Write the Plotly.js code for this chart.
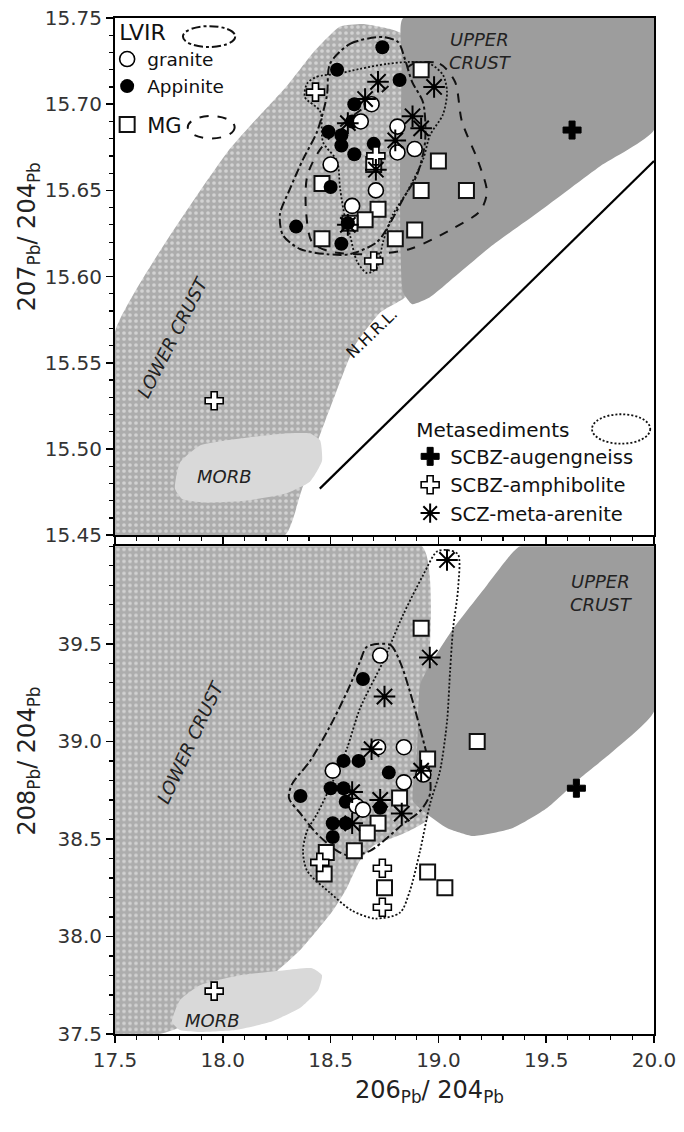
<!DOCTYPE html>
<html><head><meta charset="utf-8">
<script src="https://cdn.plot.ly/plotly-3.0.1.min.js"></script>
<style>html,body{margin:0;padding:0;background:#fff}</style>
</head><body><div id="chart" style="width:684px;height:1132px"></div>
<script>
// ---------------- DATA: 206Pb/204Pb vs 207Pb/204Pb (top panel) ----------------
const granite207X  = [18.69, 18.64, 18.81, 18.81, 18.89, 18.50, 18.71, 18.60];
const granite207Y  = [15.700, 15.690, 15.687, 15.672, 15.674, 15.665, 15.650, 15.641];
const appinite207X = [18.74, 18.53, 18.82, 18.61, 18.60, 18.49, 18.55, 18.55, 18.61, 18.70, 18.50, 18.34, 18.55, 18.58];
const appinite207Y = [15.733, 15.720, 15.714, 15.700, 15.690, 15.684, 15.682, 15.676, 15.671, 15.677, 15.652, 15.629, 15.619, 15.631];
const mg207X       = [18.92, 19.00, 18.46, 18.92, 19.13, 18.72, 18.66, 18.59, 18.46, 18.80, 18.89, 18.70];
const mg207Y       = [15.720, 15.667, 15.654, 15.650, 15.650, 15.639, 15.633, 15.631, 15.622, 15.622, 15.627, 15.665];
const arenite207X  = [18.72, 18.98, 18.66, 18.58, 18.88, 18.92, 18.80, 18.71, 18.58];
const arenite207Y  = [15.713, 15.710, 15.703, 15.689, 15.693, 15.686, 15.679, 15.662, 15.630];
const amph207X     = [18.43, 18.71, 18.70, 17.96];
const amph207Y     = [15.707, 15.670, 15.609, 15.528];
const augen207X    = [19.62];
const augen207Y    = [15.685];

// ---------------- DATA: 206Pb/204Pb vs 208Pb/204Pb (bottom panel) ----------------
const granite208X  = [18.73, 18.72, 18.84, 18.51, 18.84, 18.93, 18.62, 18.65];
const granite208Y  = [39.44, 38.97, 38.97, 38.85, 38.79, 38.83, 38.67, 38.65];
const appinite208X = [18.65, 18.56, 18.63, 18.77, 18.36, 18.50, 18.56, 18.57, 18.73, 18.51, 18.57, 18.51];
const appinite208Y = [39.32, 38.90, 38.90, 38.84, 38.72, 38.76, 38.76, 38.69, 38.66, 38.58, 38.58, 38.51];
const mg208X       = [18.92, 19.18, 18.95, 18.82, 18.72, 18.67, 18.61, 18.48, 18.47, 18.75, 18.95, 19.03];
const mg208Y       = [39.58, 39.00, 38.91, 38.71, 38.58, 38.53, 38.44, 38.43, 38.32, 38.25, 38.33, 38.25];
const arenite208X  = [19.04, 18.96, 18.75, 18.69, 18.92, 18.73, 18.83, 18.60, 18.60];
const arenite208Y  = [39.93, 39.43, 39.23, 38.96, 38.85, 38.70, 38.63, 38.58, 38.74];
const amph208X     = [18.45, 18.74, 18.74, 17.96];
const amph208Y     = [38.38, 38.35, 38.15, 37.72];
const augen208X    = [19.64];
const augen208Y    = [38.76];

// ---------------- Reservoir fields (outline vertices in data units) ----------------
const lowerCrust207X = [17.50, 18.02, 18.30, 18.42, 18.544, 18.65, 18.776, 18.845, 18.878, 18.878, 18.836, 18.729, 18.613, 18.52, 18.442, 18.358, 18.288, 17.50];
const lowerCrust207Y = [15.568, 15.672, 15.711, 15.730, 15.745, 15.7465, 15.7436, 15.740, 15.725, 15.591, 15.587, 15.579, 15.560, 15.531, 15.505, 15.473, 15.450, 15.450];
const upperCrust207X = [18.836, 20.0, 20.0, 19.75, 19.471, 19.239, 19.077, 18.961, 18.878, 18.836, 18.822, 18.831];
const upperCrust207Y = [15.75, 15.75, 15.685, 15.664, 15.638, 15.617, 15.600, 15.588, 15.584, 15.591, 15.643, 15.725];
const morb207X = [17.778, 17.801, 17.894, 18.080, 18.288, 18.404, 18.451, 18.460, 18.404, 18.288, 18.103, 17.917, 17.811];
const morb207Y = [15.477, 15.492, 15.502, 15.506, 15.509, 15.509, 15.505, 15.493, 15.481, 15.474, 15.470, 15.469, 15.471];
const nhrlX = [18.45, 20.0];
const nhrlY = [15.477, 15.667];

const lowerCrust208X = [17.50, 18.924, 18.924, 18.952, 18.836, 18.697, 18.636, 18.576, 18.511, 18.358, 18.173, 17.941, 17.709, 17.50];
const lowerCrust208Y = [40.0, 40.0, 38.796, 38.602, 38.526, 38.464, 38.388, 38.250, 38.133, 37.929, 37.750, 37.597, 37.50, 37.50];
const upperCrust208X = [19.378, 20.0, 20.0, 19.81, 19.657, 19.504, 19.346, 19.16, 19.04, 18.947, 18.882, 18.901, 18.915, 18.961, 19.068, 19.225, 19.318];
const upperCrust208Y = [40.0, 40.0, 39.153, 38.949, 38.811, 38.658, 38.556, 38.515, 38.556, 38.628, 38.694, 38.949, 39.291, 39.393, 39.577, 39.801, 39.934];
const morb208X = [17.764, 17.801, 17.894, 18.080, 18.288, 18.414, 18.460, 18.442, 18.358, 18.219, 18.057, 17.894, 17.801];
const morb208Y = [37.561, 37.673, 37.750, 37.801, 37.827, 37.837, 37.801, 37.724, 37.633, 37.561, 37.520, 37.510, 37.520];

// ---------------- Group envelopes ----------------
const lvir207X = [18.497, 18.59, 18.743, 18.813, 18.845, 18.878, 18.929, 18.938, 18.901, 18.836, 18.776, 18.715, 18.59, 18.483, 18.358, 18.279, 18.265, 18.312, 18.372, 18.437, 18.483];
const lvir207Y = [15.7234, 15.735, 15.739, 15.736, 15.726, 15.713, 15.701, 15.678, 15.659, 15.645, 15.631, 15.620, 15.613, 15.613, 15.616, 15.624, 15.636, 15.651, 15.668, 15.684, 15.705];
const mgEnv207X = [18.882, 19.007, 19.077, 19.109, 19.184, 19.225, 19.193, 19.054, 18.868, 18.683, 18.497, 18.414, 18.386, 18.391, 18.442, 18.544, 18.683, 18.799];
const mgEnv207Y = [15.7234, 15.7234, 15.713, 15.690, 15.667, 15.649, 15.638, 15.627, 15.616, 15.613, 15.6145, 15.620, 15.638, 15.658, 15.672, 15.687, 15.701, 15.714];
const meta207X = [18.391, 18.437, 18.53, 18.636, 18.762, 18.868, 18.961, 19.021, 19.04, 19.021, 18.961, 18.929, 18.854, 18.789, 18.743, 18.715, 18.669, 18.622, 18.59, 18.567, 18.544, 18.53, 18.465, 18.451, 18.381];
const meta207Y = [15.712, 15.716, 15.7176, 15.7205, 15.7234, 15.7245, 15.7234, 15.717, 15.707, 15.694, 15.682, 15.668, 15.649, 15.636, 15.620, 15.605, 15.602, 15.609, 15.624, 15.634, 15.651, 15.667, 15.678, 15.696, 15.704];

const lvir208X = [18.669, 18.776, 18.822, 18.868, 18.915, 18.952, 18.961, 18.915, 18.836, 18.762, 18.683, 18.59, 18.53, 18.437, 18.358, 18.307, 18.321, 18.404, 18.497, 18.581, 18.636];
const lvir208Y = [39.485, 39.495, 39.408, 39.255, 39.066, 38.898, 38.73, 38.643, 38.577, 38.505, 38.439, 38.413, 38.439, 38.526, 38.633, 38.709, 38.781, 38.898, 39.077, 39.265, 39.408];
const meta208X = [18.994, 19.045, 19.091, 19.091, 19.068, 19.054, 19.04, 19.007, 18.961, 18.915, 18.868, 18.822, 18.706, 18.599, 18.497, 18.391, 18.372, 18.391, 18.437, 18.511, 18.576, 18.636, 18.743, 18.836, 18.929];
const meta208Y = [39.974, 39.98, 39.959, 39.781, 39.577, 39.357, 39.102, 38.847, 38.679, 38.439, 38.235, 38.122, 38.092, 38.133, 38.224, 38.337, 38.439, 38.541, 38.628, 38.796, 38.964, 39.168, 39.408, 39.648, 39.852];

const xTicks = [17.5, 18.0, 18.5, 19.0, 19.5, 20.0];
const y207Ticks = [15.45, 15.50, 15.55, 15.60, 15.65, 15.70, 15.75];
const y208Ticks = [37.5, 38.0, 38.5, 39.0, 39.5];

// ---------------- STYLE ----------------
const FONT = 'DejaVu Sans, Verdana, sans-serif';
const TOP = ['x2', 'y2'], BOT = ['x', 'y'];

function close(a) { return a.concat([a[0]]); }
function field(xs, ys, ax, style) {
  return Object.assign({type: 'scatter', mode: 'lines', x: close(xs), y: close(ys),
    xaxis: ax[0], yaxis: ax[1], fill: 'toself', hoverinfo: 'skip', showlegend: false,
    line: {width: 0, shape: 'spline', smoothing: 0.5}}, style);
}
const stipple = {fillcolor: '#adadad', fillpattern: {shape: '.', bgcolor: '#adadad', fgcolor: '#d2d2d2', size: 6, solidity: 0.3}};
const dark = {fillcolor: '#9d9d9d'};
const light = {fillcolor: '#d9d9d9'};

function envelope(xs, ys, ax, dash, w) {
  return {type: 'scatter', mode: 'lines', x: close(xs), y: close(ys), xaxis: ax[0], yaxis: ax[1],
    hoverinfo: 'skip', showlegend: false,
    line: {color: '#111', width: w, dash: dash, shape: 'spline', smoothing: 0.8}};
}

const mGranite = {symbol: 'circle', size: 15, color: '#fff', line: {color: '#000', width: 1.6}};
const mApp = {symbol: 'circle', size: 14, color: '#000', line: {color: '#000', width: 0}};
const mMG = {symbol: 'square', size: 15, color: '#fff', line: {color: '#111', width: 2}};
const mArenite = {symbol: 'asterisk-open', size: 18, color: '#000', line: {color: '#000', width: 2}};
const mAmph = {symbol: 'cross', size: 15, color: '#fff', line: {color: '#000', width: 1.6}};
const mAugen = {symbol: 'cross', size: 15, color: '#000', line: {color: '#000', width: 1}};

function pts(name, xs, ys, ax, marker, legend, rank) {
  return {type: 'scatter', mode: 'markers', name: name, x: xs, y: ys, xaxis: ax[0], yaxis: ax[1],
    marker: marker, hoverinfo: 'x+y', showlegend: !!legend, legend: legend || 'legend', legendrank: rank || 1000};
}

const traces = [
  field(lowerCrust207X, lowerCrust207Y, TOP, stipple),
  field(upperCrust207X, upperCrust207Y, TOP, dark),
  field(morb207X, morb207Y, TOP, light),
  {type: 'scatter', mode: 'lines', x: nhrlX, y: nhrlY, xaxis: 'x2', yaxis: 'y2', hoverinfo: 'skip', showlegend: false, line: {color: '#000', width: 2.2}},
  envelope(meta207X, meta207Y, TOP, '2px,2px', 1.8),
  envelope(mgEnv207X, mgEnv207Y, TOP, 'dash', 2),
  envelope(lvir207X, lvir207Y, TOP, 'dashdot', 2),
  pts('MG', mg207X, mg207Y, TOP, mMG, 'legend3', 1),
  pts('Appinite', appinite207X, appinite207Y, TOP, mApp, 'legend', 2),
  pts('granite', granite207X, granite207Y, TOP, mGranite, 'legend', 1),
  pts('SCBZ-amphibolite', amph207X, amph207Y, TOP, mAmph, 'legend2', 2),
  pts('SCZ-meta-arenite', arenite207X, arenite207Y, TOP, mArenite, 'legend2', 3),
  pts('SCBZ-augengneiss', augen207X, augen207Y, TOP, mAugen, 'legend2', 1),

  field(lowerCrust208X, lowerCrust208Y, BOT, stipple),
  field(upperCrust208X, upperCrust208Y, BOT, dark),
  field(morb208X, morb208Y, BOT, light),
  envelope(meta208X, meta208Y, BOT, '2px,2px', 1.8),
  envelope(lvir208X, lvir208Y, BOT, 'dashdot', 2),
  pts('MG', mg208X, mg208Y, BOT, mMG),
  pts('Appinite', appinite208X, appinite208Y, BOT, mApp),
  pts('granite', granite208X, granite208Y, BOT, mGranite),
  pts('SCBZ-amphibolite', amph208X, amph208Y, BOT, mAmph),
  pts('SCZ-meta-arenite', arenite208X, arenite208Y, BOT, mArenite),
  pts('SCBZ-augengneiss', augen208X, augen208Y, BOT, mAugen)
];

const axisCommon = {showline: true, linecolor: '#000', linewidth: 2, mirror: true, showgrid: false, zeroline: false,
  ticks: 'outside', ticklen: 7, tickwidth: 1.5, tickcolor: '#000',
  tickfont: {family: FONT, size: 20, color: '#333'}};

const lblFont = {family: FONT, size: 18, color: '#222'};
function lbl(text, x, y, ax, extra) {
  return Object.assign({text: text, x: x, y: y, xref: ax[0], yref: ax[1], showarrow: false, font: lblFont}, extra || {});
}
const titleFont = {family: FONT, size: 24, color: '#222'};

const layout = {
  width: 684, height: 1132,
  margin: {l: 115, r: 30, t: 16, b: 98},
  paper_bgcolor: '#fff', plot_bgcolor: '#fff',
  font: {family: FONT, color: '#111'},
  xaxis: Object.assign({}, axisCommon, {domain: [0, 1], anchor: 'y', range: [17.5, 20.0], tickvals: xTicks, tickformat: '.1f',
    minor: {ticks: 'outside', ticklen: 4, tickwidth: 1.2, tickcolor: '#000', dtick: 0.1, tick0: 17.5}}),
  yaxis: Object.assign({}, axisCommon, {domain: [0, 0.480], anchor: 'x', range: [37.5, 40.0], tickvals: y208Ticks, tickformat: '.1f',
    minor: {ticks: 'outside', ticklen: 4, tickwidth: 1.2, tickcolor: '#000', dtick: 0.1, tick0: 37.5}}),
  xaxis2: Object.assign({}, axisCommon, {domain: [0, 1], anchor: 'y2', matches: 'x', range: [17.5, 20.0], tickvals: xTicks, showticklabels: false,
    minor: {ticks: 'outside', ticklen: 4, tickwidth: 1.2, tickcolor: '#000', dtick: 0.1, tick0: 17.5}}),
  yaxis2: Object.assign({}, axisCommon, {domain: [0.491, 1], anchor: 'x2', range: [15.45, 15.75], tickvals: y207Ticks, tickformat: '.2f',
    minor: {ticks: 'outside', ticklen: 4, tickwidth: 1.2, tickcolor: '#000', dtick: 0.01, tick0: 15.45}}),
  legend: {x: 0.004, y: 1.006, xanchor: 'left', yanchor: 'top', bgcolor: 'rgba(0,0,0,0)', indentation: -10,
    title: {text: 'LVIR', font: {family: FONT, size: 22, color: '#111'}}, font: {family: FONT, size: 18.5, color: '#111'}},
  legend3: {x: 0.004, y: 0.915, xanchor: 'left', yanchor: 'top', bgcolor: 'rgba(0,0,0,0)', indentation: -10,
    font: {family: FONT, size: 21, color: '#111'}},
  legend2: {x: 0.555, y: 0.613, xanchor: 'left', yanchor: 'top', bgcolor: 'rgba(0,0,0,0)', indentation: -4,
    title: {text: 'Metasediments', font: {family: FONT, size: 20, color: '#111'}}, font: {family: FONT, size: 19.5, color: '#111'}},
  shapes: [
    {type: 'circle', xref: 'paper', yref: 'paper', x0: 0.126, x1: 0.223, y0: 0.9715, y1: 0.992, line: {color: '#111', width: 2, dash: 'dashdot'}},
    {type: 'circle', xref: 'paper', yref: 'paper', x0: 0.135, x1: 0.222, y0: 0.8815, y1: 0.9035, line: {color: '#111', width: 2, dash: 'dash'}},
    {type: 'circle', xref: 'paper', yref: 'paper', x0: 0.885, x1: 0.993, y0: 0.581, y1: 0.610, line: {color: '#111', width: 1.8, dash: '2px,2px'}}
  ],
  annotations: [
    lbl('<i>UPPER<br>CRUST</i>', 19.04, 15.731, TOP, {xanchor: 'left'}),
    lbl('<i>LOWER CRUST</i>', 17.77, 15.565, TOP, {textangle: -63}),
    lbl('<i>MORB</i>', 18.01, 15.484, TOP),
    lbl('N.H.R.L.', 18.69, 15.567, TOP, {textangle: -44, font: {family: FONT, size: 16, color: '#111'}}),
    lbl('<i>UPPER<br>CRUST</i>', 19.60, 39.76, BOT, {xanchor: 'left'}),
    lbl('<i>LOWER CRUST</i>', 17.85, 39.0, BOT, {textangle: -65}),
    lbl('<i>MORB</i>', 17.95, 37.57, BOT),
    {text: '207<sub>Pb</sub>/ 204<sub>Pb</sub>', xref: 'paper', yref: 'paper', x: -0.16, y: 0.785, xanchor: 'center', yanchor: 'middle',
      textangle: -90, showarrow: false, font: titleFont},
    {text: '208<sub>Pb</sub>/ 204<sub>Pb</sub>', xref: 'paper', yref: 'paper', x: -0.16, y: 0.269, xanchor: 'center', yanchor: 'middle',
      textangle: -90, showarrow: false, font: titleFont},
    {text: '206<sub>Pb</sub>/ 204<sub>Pb</sub>', xref: 'paper', yref: 'paper', x: 0.584, y: -0.057, xanchor: 'center', yanchor: 'middle',
      showarrow: false, font: titleFont}
  ]
};

Plotly.newPlot('chart', traces, layout, {displayModeBar: false, staticPlot: true});
</script></body></html>
